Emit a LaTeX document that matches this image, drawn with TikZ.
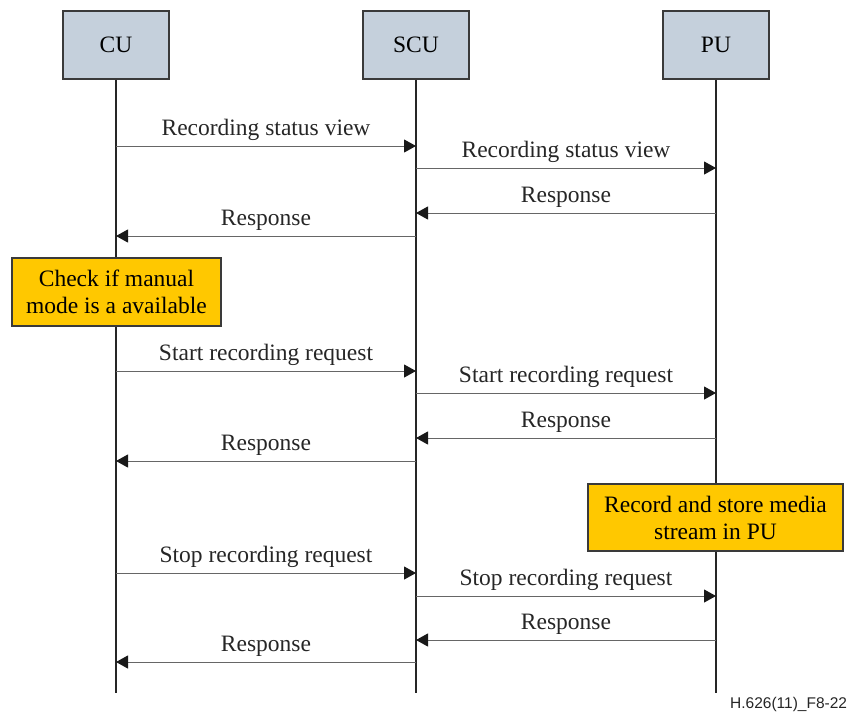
\documentclass[tikz,border=0pt]{standalone}
\usepackage{fontspec}
\setmainfont{Liberation Serif}
\newfontfamily\footfont{Liberation Sans}
\usetikzlibrary{arrows.meta}
\definecolor{hdrfill}{HTML}{C5D0DC}
\definecolor{notefill}{HTML}{FFC800}
\definecolor{edge}{HTML}{3A3A3A}
\definecolor{msgline}{HTML}{666666}
\tikzset{
  hdr/.style={draw=edge, line width=1.3pt, fill=hdrfill, minimum width=106pt, minimum height=68pt, inner sep=0pt, font=\fontsize{23.5}{27}\selectfont},
  note/.style={draw=edge, line width=1.3pt, fill=notefill, inner sep=0pt, align=center, font=\fontsize{23.5}{27}\selectfont},
  life/.style={line width=1.2pt, color=black!85},
  msg/.style={draw=msgline, line width=1pt, -{Triangle[length=12pt,width=13pt,color=black!90]}},
  lbl/.style={midway, anchor=base, yshift=11pt, inner sep=0pt, font=\fontsize{23.5}{27}\selectfont, text=black!85},
}
\begin{document}
\begin{tikzpicture}[x=1pt,y=-1pt]
\useasboundingbox (0,0) rectangle (851,713);
% headers
\node[hdr] (cu) at (116,45) {CU};
\node[hdr] (scu) at (416,45) {SCU};
\node[hdr] (pu) at (716,45) {PU};
% lifeline ends
\coordinate (cuE) at (116,693);
\coordinate (scuE) at (416,693);
\coordinate (puE) at (716,693);
\draw[life] (cu.south) -- (cuE);
\draw[life] (scu.south) -- (scuE);
\draw[life] (pu.south) -- (puE);
% notes
\node[note, minimum width=209pt, minimum height=68pt] (chk) at (116.5,292) {Check if manual\\mode is a available};
\node[note, minimum width=255pt, minimum height=67pt] (rec) at (715.5,517.5) {Record and store media\\stream in PU};
% message coordinates
\foreach \n/\y in {1/146,2/168,3/213,4/236,5/371,6/393,7/438,8/461,9/573,10/596,11/640,12/662}{
  \coordinate (c\n) at (116,\y);
  \coordinate (s\n) at (416,\y);
  \coordinate (p\n) at (716,\y);
}
\draw[msg] (c1) -- node[lbl] {Recording status view} (s1);
\draw[msg] (s2) -- node[lbl] {Recording status view} (p2);
\draw[msg] (p3) -- node[lbl] {Response} (s3);
\draw[msg] (s4) -- node[lbl] {Response} (c4);
\draw[msg] (c5) -- node[lbl] {Start recording request} (s5);
\draw[msg] (s6) -- node[lbl] {Start recording request} (p6);
\draw[msg] (p7) -- node[lbl] {Response} (s7);
\draw[msg] (s8) -- node[lbl] {Response} (c8);
\draw[msg] (c9) -- node[lbl] {Stop recording request} (s9);
\draw[msg] (s10) -- node[lbl] {Stop recording request} (p10);
\draw[msg] (p11) -- node[lbl] {Response} (s11);
\draw[msg] (s12) -- node[lbl] {Response} (c12);
% footer
\node[anchor=base west, inner sep=0pt, font=\footfont\fontsize{15.5}{18}\selectfont, text=black!85] (fig) at (730,708) {H.626(11)\_F8-22};
\end{tikzpicture}
\end{document}
